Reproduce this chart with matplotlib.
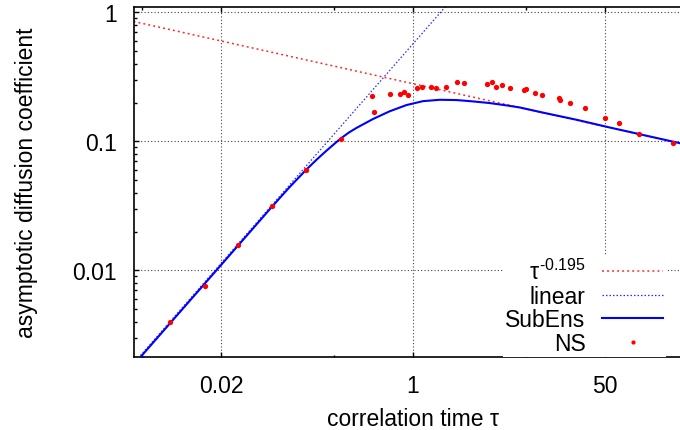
import matplotlib
matplotlib.use("Agg")
import matplotlib.pyplot as plt
from matplotlib.ticker import LogLocator, NullFormatter

plt.rcParams["font.family"] = ["Liberation Sans", "DejaVu Sans"]
plt.rcParams["mathtext.fontset"] = "custom"
plt.rcParams["mathtext.rm"] = "Liberation Sans"
plt.rcParams["mathtext.it"] = "Liberation Sans"
plt.rcParams["mathtext.bf"] = "Liberation Sans:bold"

FS = 16.5

# NS simulation points (tau, D)
ns_tau = [0.00708, 0.0142, 0.0282, 0.0565, 0.113, 0.228, 0.433, 0.451,
          0.625, 0.773, 0.832, 0.903, 1.094, 1.195, 1.456, 1.60, 1.98,
          2.46, 2.82, 4.51, 5.02, 5.42, 6.21, 7.31, 9.60, 10.0, 12.1,
          13.97, 19.7, 20.0, 24.7, 33.2, 50.2, 66.9, 101, 203]
ns_D = [0.00397, 0.00755, 0.0156, 0.0313, 0.0602, 0.105, 0.224, 0.170,
        0.234, 0.234, 0.242, 0.230, 0.260, 0.262, 0.265, 0.260, 0.262,
        0.287, 0.282, 0.280, 0.290, 0.265, 0.272, 0.260, 0.251, 0.254, 0.236,
        0.227, 0.216, 0.208, 0.200, 0.180, 0.152, 0.138, 0.114, 0.097]

# SubEns curve
subens_tau = [0.0037, 0.0282, 0.0565, 0.08, 0.113, 0.14, 0.17, 0.2, 0.228,
              0.27, 0.315, 0.442, 0.621, 0.873, 1.227, 1.726, 2.43, 3.41,
              4.80, 6.74, 8.85, 14.2, 28.2, 55.6, 110, 233, 300]
subens_D = [0.00205, 0.0156, 0.0313, 0.0439, 0.0602, 0.0722, 0.0843, 0.0953,
            0.105, 0.117, 0.127, 0.149, 0.171, 0.191, 0.205, 0.210, 0.209,
            0.204, 0.198, 0.190, 0.183, 0.167, 0.147, 0.128, 0.112, 0.0967,
            0.092]

# straight reference lines (end points)
power_tau = [1 / 300, 300]
power_D = [0.85, 0.092]
linear_tau = [1 / 300, 2.0]
linear_D = [0.0019, 1.14]

x_ticks = [0.02, 1, 50]
x_labels = ["0.02", "1", "50"]
x_minor = [0.004, 0.2, 10]
y_ticks = [0.01, 0.1, 1]
y_labels = ["0.01", "0.1", "1"]

fig = plt.figure(figsize=(6.8, 4.31), dpi=100)
ax = fig.add_axes([133.5 / 680, (431 - 358.3) / 431, 559 / 680, 350.3 / 431])
ax.set_xscale("log")
ax.set_yscale("log")

ax.plot(power_tau, power_D, color="#ff2a2a", lw=1.1, ls=(0, (1.3, 2.0)),
        label=r"$τ^{\text{-0.195}}$", zorder=2)
ax.plot(linear_tau, linear_D, color="#2a2aff", lw=0.9, ls=(0, (1.2, 1.6)),
        label="linear", zorder=2)
ax.plot(subens_tau, subens_D, color="#0000ff", lw=1.5, label="SubEns", zorder=3)
ax.plot(ns_tau, ns_D, ls="none", marker="o", ms=3.8, mec="none", color="#ff0000",
        label="NS", zorder=4)

ax.set_xlim(1 / 300, 300)
ax.set_ylim(0.00212, 1.1)

ax.set_xticks(x_ticks, x_labels)
ax.set_xticks(x_minor, minor=True)
ax.xaxis.set_minor_formatter(NullFormatter())
ax.set_yticks(y_ticks, y_labels)
ax.yaxis.set_minor_locator(LogLocator(base=10, subs=range(2, 10)))
ax.yaxis.set_minor_formatter(NullFormatter())

ax.tick_params(which="both", direction="in", top=True, right=True,
               labelsize=FS, pad=12, width=1)
ax.tick_params(which="major", length=3.6)
ax.tick_params(which="minor", length=1.8)
for sp in ax.spines.values():
    sp.set_linewidth(1.2)

ax.grid(True, which="major", color="#444444", ls=(0, (1, 2)), lw=0.8)
ax.set_axisbelow(True)

ax.set_xlabel("correlation time τ", fontsize=FS)
ax.set_ylabel("asymptotic diffusion coefficient", fontsize=FS)
ax.xaxis.set_label_coords(0.5, -0.141)
ax.yaxis.set_label_coords(-0.171, 0.5)

leg = ax.legend(loc="lower right", bbox_to_anchor=(0.953, 0.0), markerfirst=False,
                frameon=True, fancybox=False, edgecolor="none", facecolor="white",
                framealpha=1, borderaxespad=0, fontsize=FS, handlelength=2.7,
                handletextpad=0.7, labelspacing=0.02, borderpad=0.12, markerscale=0.8)
leg.get_frame().set_linewidth(0)

fig.savefig("out.png", dpi=100)
